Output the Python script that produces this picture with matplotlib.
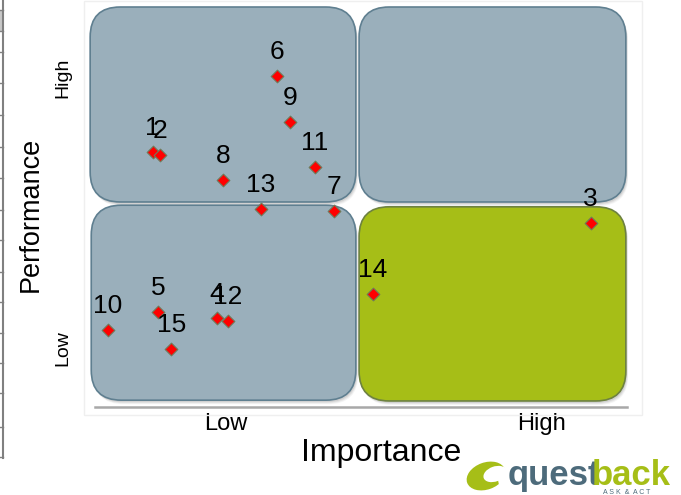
import numpy as np
import matplotlib
matplotlib.use("Agg")
import matplotlib.pyplot as plt
from matplotlib.patches import FancyBboxPatch, Rectangle, Ellipse
from matplotlib.lines import Line2D

plt.rcParams['font.family'] = ['Liberation Sans', 'DejaVu Sans']

# item number, importance (x), performance (y)
items = ['1', '2', '3', '4', '5', '6', '7', '8', '9', '10', '11', '12', '13', '14', '15']
importance = [1.20, 1.33, 9.31, 2.39, 1.30, 3.50, 4.56, 2.50, 3.74, 0.37, 4.20, 2.59, 3.20, 5.28, 1.54]
performance = [6.34, 6.27, 4.58, 2.21, 2.36, 8.23, 4.88, 5.65, 7.09, 1.92, 5.97, 2.14, 4.93, 2.81, 1.44]

x_ticks = [2.56, 8.39]
x_ticklabels = ['Low', 'High']
y_ticks = [1.47, 8.18]
y_ticklabels = ['Low', 'High']

W, H = 681, 495
fig = plt.figure(figsize=(W / 100, H / 100), dpi=100)


def fx(px):
    return px / W


def fy(py):
    return 1 - py / H


# faint chart panel border
fig.add_artist(Rectangle((fx(84), fy(415)), fx(642 - 84), (415 - 1) / H,
                         transform=fig.transFigure, fill=False,
                         edgecolor='#EFEFEF', lw=1))

# spreadsheet edge at the far left
fig.add_artist(Rectangle((0, fy(31)), fx(3), 21 / H, transform=fig.transFigure,
                         facecolor='#C8C8C8', edgecolor='none'))
fig.add_artist(Line2D([fx(3), fx(3)], [fy(0), fy(458)], transform=fig.transFigure,
                      color='#808080', lw=1.5))
for yy in [10, 31, 52, 83, 115, 147, 178, 210, 240, 272, 302, 333, 363, 393, 427, 457]:
    fig.add_artist(Line2D([0, fx(3)], [fy(yy), fy(yy)], transform=fig.transFigure,
                          color='#808080', lw=1))

ax = fig.add_axes([fx(88), fy(407), fx(540), 402 / H])
ax.set_xlim(0, 10)
ax.set_ylim(0, 10)
ax.patch.set_alpha(0)
for s in ax.spines.values():
    s.set_visible(False)

xs = 540 / 10   # px per unit
ys = 402 / 10
aspect = xs / ys
r = 30 / xs

quads = [
    (0.04, 5.10, 4.92, 4.85, '#9AAFBB', '#5F7F90'),
    (5.02, 5.10, 4.94, 4.85, '#9AAFBB', '#5F7F90'),
    (0.06, 0.17, 4.90, 4.85, '#9AAFBB', '#5F7F90'),
    (5.02, 0.15, 4.94, 4.83, '#A6BE17', '#6E8240'),
]
for x0, y0, w, h, fc, ec in quads:
    # soft shadow
    for k, a in [(4, 0.07), (3, 0.10), (2, 0.14)]:
        ax.add_patch(FancyBboxPatch((x0 + k / xs * 0.6, y0 - k / ys), w, h,
                                    boxstyle='round,pad=0,rounding_size=%f' % r,
                                    mutation_aspect=aspect,
                                    facecolor='#606060', edgecolor='none',
                                    alpha=a, zorder=1))
    ax.add_patch(FancyBboxPatch((x0, y0), w, h,
                                boxstyle='round,pad=0,rounding_size=%f' % r,
                                mutation_aspect=aspect,
                                facecolor=fc, edgecolor=ec, lw=1.2, zorder=2))

ax.axhline(0, xmin=0.013, xmax=0.998, color='#A8A8A8', lw=1.8, clip_on=False)

ax.scatter(importance, performance, marker='D', s=42, color='#FF0000',
           edgecolors='#707a5a', linewidths=0.8, zorder=5)
for lab, x, y in zip(items, importance, performance):
    ax.annotate(lab, (x, y), xytext=(0, 12), textcoords='offset points',
                ha='center', va='baseline', fontsize=19, color='black', zorder=6)

ax.set_xticks(x_ticks)
ax.set_xticklabels(x_ticklabels, fontsize=17)
ax.set_yticks(y_ticks)
ax.set_yticklabels(y_ticklabels, fontsize=14, rotation=90, va='center')
ax.tick_params(axis='x', length=0, pad=4)
ax.tick_params(axis='y', length=0, pad=12)

fig.text(fx(381), fy(453), 'Importance', fontsize=23, ha='center', va='center')
fig.text(fx(31), fy(214), 'Performance', fontsize=19.5, ha='center', va='center',
         rotation=90)

# questback logo
lax = fig.add_axes([fx(462), fy(495), fx(219), 40 / H])
lax.set_xlim(462, 681)
lax.set_ylim(495, 455)
lax.axis('off')
lax.add_patch(Ellipse((486, 476), 40, 27, angle=-20, facecolor='#A6BE17', edgecolor='none'))
lax.add_patch(Ellipse((495, 474), 24, 15, angle=-20, facecolor='white', edgecolor='none'))
lax.add_patch(Ellipse((503, 478), 10, 22, angle=0, facecolor='white', edgecolor='none'))
lax.text(508, 485, 'quest', fontsize=25, fontweight='bold', color='#4D6B7B',
         ha='left', va='baseline')
lax.text(592, 485, 'back', fontsize=25, fontweight='bold', color='#A6BE17',
         ha='left', va='baseline')
lax.text(627, 494, 'A S K  &  A C T', fontsize=5, color='#4D6B7B', ha='center',
         va='baseline')

fig.savefig('out.png', dpi=100)
